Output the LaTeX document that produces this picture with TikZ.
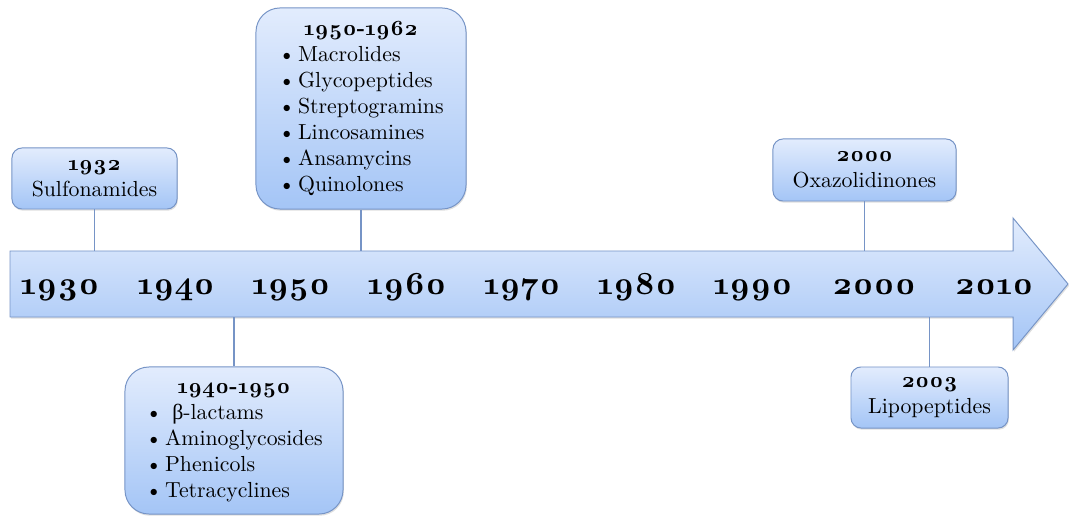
\documentclass[tikz,border=0pt]{standalone}
\usepackage{fontspec}
\setmainfont{lmroman10}[Extension=.otf, UprightFont=*-regular, BoldFont=*-bold, ItalicFont=*-italic, Numbers=OldStyle]
\newfontfamily\greekfont{Liberation Serif}
\usetikzlibrary{shapes,arrows,positioning,shadows}
\definecolor{boxtop}{RGB}{226,236,253}
\definecolor{boxbot}{RGB}{164,197,246}
\definecolor{boxline}{RGB}{118,148,198}
\newcommand{\itm}{\textbullet\kern2pt}
\tikzstyle{era} = [rectangle, draw=boxline, line width=0.7pt, top color=boxtop, bottom color=boxbot,
    rounded corners=0.25cm, font=\fontsize{15.5}{18.5}\selectfont, align=center,
    drop shadow={opacity=0.25, shadow xshift=0.6pt, shadow yshift=-1.2pt}]
\tikzstyle{bigera} = [era, rounded corners=0.6cm]
\tikzstyle{year} = [font=\fontsize{23}{25}\selectfont\bfseries, anchor=base]
\tikzstyle{line} = [draw=boxline, line width=0.8pt]

\begin{document}
\begin{tikzpicture}[x=0.025cm, y=-0.025cm]
        \useasboundingbox (0,0) rectangle (1069,517);
        % time axis
        \path [draw=boxline, line width=0.7pt, top color=boxtop, bottom color=boxbot,
            drop shadow={opacity=0.25, shadow xshift=0.8pt, shadow yshift=-1.2pt}]
            (10,251) -- (1013,251) -- (1013,218) -- (1068,284) -- (1013,350) -- (1013,317) -- (10,317) -- cycle;
        \coordinate (bodytop) at (0,251);
        \coordinate (bodybot) at (0,317);

        \node [year] (y1930) at (60,294) {1930};
        \node [year] (y1940) at (176,294) {1940};
        \node [year] (y1950) at (291,294) {1950};
        \node [year] (y1960) at (407,294) {1960};
        \node [year] (y1970) at (522,294) {1970};
        \node [year] (y1980) at (637,294) {1980};
        \node [year] (y1990) at (753,294) {1990};
        \node [year] (y2000) at (874,294) {2000};
        \node [year] (y2010) at (994,294) {2010};

        % classes above and below
        \node [era, minimum width=4.125cm, minimum height=1.525cm] (sulfa) at (94.5,178.5)
            {\textbf{1932}\\Sulfonamides};
        \node [bigera, minimum width=5.25cm, minimum height=5.025cm] (macro) at (361,108.5)
            {\begin{tabular}{@{}l@{}}\multicolumn{1}{@{}c@{}}{\textbf{1950-1962}}\\
            \itm Macrolides\\ \itm Glycopeptides\\ \itm Streptogramins\\
            \itm Lincosamines\\ \itm Ansamycins\\ \itm Quinolones\end{tabular}};
        \node [bigera, minimum width=5.45cm, minimum height=3.675cm] (lactam) at (234,440.5)
            {\begin{tabular}{@{}l@{}}\multicolumn{1}{@{}c@{}}{\textbf{1940-1950}}\\
            \itm\ {\greekfont β}-lactams\\ \itm Aminoglycosides\\
            \itm Phenicols\\ \itm Tetracyclines\end{tabular}};
        \node [era, minimum width=4.575cm, minimum height=1.55cm] (oxa) at (864.5,170)
            {\textbf{2000}\\Oxazolidinones};
        \node [era, minimum width=3.925cm, minimum height=1.525cm] (lipo) at (929.5,397.5)
            {\textbf{2003}\\Lipopeptides};

        \path [line] (sulfa.south) -- (sulfa.south |- bodytop);
        \path [line] (macro.south) -- (macro.south |- bodytop);
        \path [line] (oxa.south) -- (oxa.south |- bodytop);
        \path [line] (lactam.north) -- (lactam.north |- bodybot);
        \path [line] (lipo.north) -- (lipo.north |- bodybot);
    \end{tikzpicture}
\end{document}
